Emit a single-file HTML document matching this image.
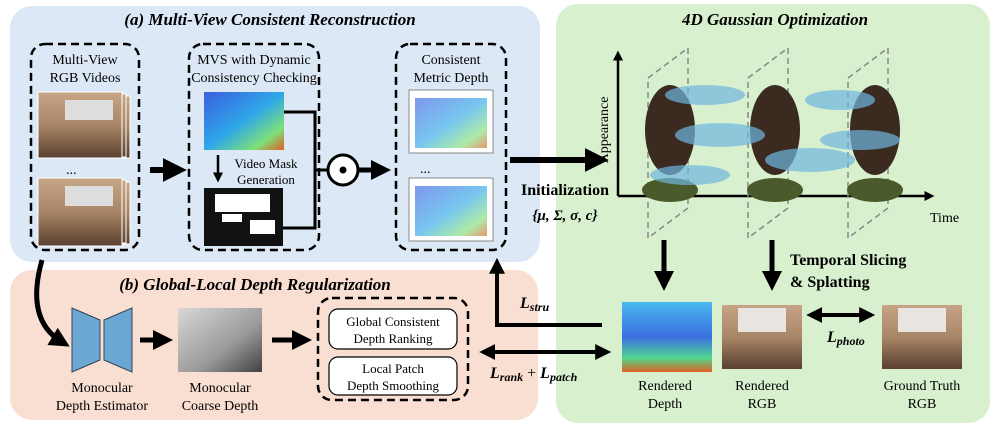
<!DOCTYPE html>
<html><head><meta charset="utf-8"><style>
body{margin:0;background:#fff}
svg{display:block;font-family:"Liberation Serif",serif}
</style></head><body>
<svg width="997" height="430" viewBox="0 0 997 430" xmlns="http://www.w3.org/2000/svg">
<defs>
<marker id="ah" markerWidth="4" markerHeight="4" refX="2.2" refY="2" orient="auto" markerUnits="strokeWidth"><path d="M0,0 L4,2 L0,4 z" fill="#000"/></marker>
<marker id="ahs" markerWidth="4" markerHeight="4" refX="1.8" refY="2" orient="auto-start-reverse" markerUnits="strokeWidth"><path d="M0,0 L4,2 L0,4 z" fill="#000"/></marker>
<linearGradient id="dep" x1="0" y1="0" x2="1" y2="1"><stop offset="0" stop-color="#3b5fe0"/><stop offset="0.5" stop-color="#2ea7e8"/><stop offset="0.8" stop-color="#7ee07a"/><stop offset="1" stop-color="#e06020"/></linearGradient>
<linearGradient id="dep2" x1="0" y1="0" x2="0" y2="1"><stop offset="0" stop-color="#49b8f0"/><stop offset="0.5" stop-color="#3a6ee0"/><stop offset="0.8" stop-color="#50d890"/><stop offset="1" stop-color="#e06020"/></linearGradient>
<linearGradient id="rgb" x1="0" y1="0" x2="0" y2="1"><stop offset="0" stop-color="#c7a587"/><stop offset="0.5" stop-color="#a88566"/><stop offset="1" stop-color="#5a4030"/></linearGradient>
<linearGradient id="gray" x1="0" y1="0" x2="1" y2="1"><stop offset="0" stop-color="#d8d8d8"/><stop offset="0.6" stop-color="#9a9a9a"/><stop offset="1" stop-color="#404040"/></linearGradient>
</defs>
<rect x="10" y="6" width="530" height="256" rx="22" fill="#dce8f5"/>
<rect x="10" y="270" width="528" height="150" rx="22" fill="#f9dfd2"/>
<rect x="556" y="4" width="434" height="419" rx="22" fill="#d9f0cf"/>
<text x="270" y="25" text-anchor="middle" font-size="17" font-weight="bold" font-style="italic">(a) Multi-View Consistent Reconstruction</text>
<text x="255" y="290" text-anchor="middle" font-size="17" font-weight="bold" font-style="italic">(b) Global-Local Depth Regularization</text>
<text x="775" y="25" text-anchor="middle" font-size="17" font-weight="bold" font-style="italic">4D Gaussian Optimization</text>
<g fill="none" stroke="#000" stroke-width="2.5" stroke-dasharray="8,5">
<rect x="31" y="44" width="108" height="206" rx="14"/>
<rect x="189" y="44" width="130" height="206" rx="14"/>
<rect x="396" y="44" width="110" height="206" rx="14"/>
<rect x="318" y="298" width="150" height="102" rx="14"/>
</g>
<g font-size="14" text-anchor="middle">
<text x="85" y="64">Multi-View</text><text x="85" y="82">RGB Videos</text>
<text x="254" y="64">MVS with Dynamic</text><text x="254" y="82">Consistency Checking</text>
<text x="451" y="64">Consistent</text><text x="451" y="82">Metric Depth</text>
<text x="266" y="168" font-size="13">Video Mask</text><text x="266" y="184" font-size="13">Generation</text>
</g>
<g stroke="#fff" stroke-width="1">
<rect x="46" y="96" width="84" height="62" fill="url(#rgb)"/><rect x="42" y="94" width="84" height="63" fill="url(#rgb)"/><rect x="38" y="92" width="84" height="66" fill="url(#rgb)"/>
<rect x="46" y="182" width="84" height="62" fill="url(#rgb)"/><rect x="42" y="180" width="84" height="63" fill="url(#rgb)"/><rect x="38" y="178" width="84" height="68" fill="url(#rgb)"/>
</g>
<rect x="65" y="100" width="48" height="20" fill="#ddd"/><rect x="65" y="186" width="48" height="20" fill="#ddd"/>
<text x="66" y="174" font-size="14">...</text>
<rect x="204" y="92" width="80" height="58" fill="url(#dep)"/>
<rect x="204" y="188" width="79" height="58" fill="#111"/>
<g fill="#fff"><rect x="215" y="194" width="55" height="18"/><rect x="222" y="214" width="20" height="8"/><rect x="250" y="220" width="25" height="14"/></g>
<rect x="409" y="90" width="84" height="63" fill="#fff" stroke="#888"/>
<rect x="415" y="98" width="72" height="50" fill="url(#dep)" opacity="0.65"/>
<text x="420" y="173" font-size="14">...</text>
<rect x="409" y="178" width="84" height="63" fill="#fff" stroke="#888"/>
<rect x="415" y="186" width="72" height="50" fill="url(#dep)" opacity="0.65"/>
<g stroke="#000" stroke-width="3" fill="none">
<line x1="150" y1="170" x2="176" y2="170" stroke-width="6" marker-end="url(#ah)"/>
<line x1="218" y1="155" x2="218" y2="178" stroke-width="2.5" marker-end="url(#ah)"/>
<polyline points="284,112 315,112 315,228 283,228"/>
<line x1="315" y1="170" x2="328" y2="170"/>
<line x1="358" y1="170" x2="382" y2="170" stroke-width="5" marker-end="url(#ah)"/>
<line x1="510" y1="160" x2="598" y2="160" stroke-width="6" marker-end="url(#ah)"/>
</g>
<circle cx="343" cy="170" r="15" fill="#fff" stroke="#000" stroke-width="3"/>
<circle cx="343" cy="170" r="3.5" fill="#000"/>
<text x="565" y="195" text-anchor="middle" font-size="16" font-weight="bold">Initialization</text>
<text x="565" y="220" text-anchor="middle" font-size="15" font-weight="bold" font-style="italic">{μ, Σ, σ, c}</text>
<g stroke="#000" stroke-width="3" fill="none">
<line x1="618" y1="196" x2="618" y2="55" marker-end="url(#ah)" stroke-width="2.5"/>
<line x1="618" y1="196" x2="930" y2="196" marker-end="url(#ah)" stroke-width="2.5"/>
</g>
<text transform="translate(608,130) rotate(-90)" text-anchor="middle" font-size="14">Appearance</text>
<text x="930" y="222" font-size="14">Time</text>
<g fill="none" stroke="#888" stroke-width="1.5" stroke-dasharray="6,4">
<polygon points="648,78 688,48 688,208 648,238"/>
<polygon points="748,78 788,48 788,208 748,238"/>
<polygon points="848,78 888,48 888,208 848,238"/>
</g>
<g fill="#3a2a20">
<ellipse cx="670" cy="130" rx="25" ry="45"/><ellipse cx="775" cy="130" rx="25" ry="45"/><ellipse cx="875" cy="130" rx="25" ry="45"/>
<ellipse cx="670" cy="190" rx="28" ry="12" fill="#4a5a2a"/><ellipse cx="775" cy="190" rx="28" ry="12" fill="#4a5a2a"/><ellipse cx="875" cy="190" rx="28" ry="12" fill="#4a5a2a"/>
</g>
<g fill="#6fb7e0" opacity="0.7">
<ellipse cx="705" cy="95" rx="40" ry="10"/><ellipse cx="720" cy="135" rx="45" ry="12"/><ellipse cx="690" cy="175" rx="40" ry="10"/>
<ellipse cx="810" cy="160" rx="45" ry="12"/><ellipse cx="840" cy="100" rx="35" ry="10"/><ellipse cx="860" cy="140" rx="40" ry="10"/>
</g>
<g stroke="#000" stroke-width="5" fill="none">
<line x1="664" y1="240" x2="664" y2="282" marker-end="url(#ah)"/>
<line x1="772" y1="240" x2="772" y2="282" marker-end="url(#ah)"/>
</g>
<text x="790" y="265" font-size="16" font-weight="bold">Temporal Slicing</text>
<text x="790" y="287" font-size="16" font-weight="bold">&amp; Splatting</text>
<rect x="622" y="302" width="90" height="70" fill="url(#dep2)"/>
<rect x="722" y="305" width="80" height="64" fill="url(#rgb)"/>
<rect x="738" y="308" width="48" height="24" fill="#e8e4e0"/>
<rect x="882" y="305" width="80" height="64" fill="url(#rgb)"/>
<rect x="898" y="308" width="48" height="24" fill="#e8e4e0"/>
<line x1="815" y1="315" x2="868" y2="315" stroke="#000" stroke-width="4" marker-start="url(#ahs)" marker-end="url(#ah)"/>
<text x="827" y="342" font-size="16" font-weight="bold" font-style="italic">L<tspan font-size="12" dy="3">photo</tspan></text>
<g font-size="14" text-anchor="middle">
<text x="665" y="390">Rendered</text><text x="665" y="408">Depth</text>
<text x="762" y="390">Rendered</text><text x="762" y="408">RGB</text>
<text x="922" y="390">Ground Truth</text><text x="922" y="408">RGB</text>
</g>
<g stroke="#000" stroke-width="4" fill="none">
<polyline points="602,325 497,325 497,265" marker-end="url(#ah)"/>
<line x1="488" y1="352" x2="604" y2="352" marker-start="url(#ahs)" marker-end="url(#ah)"/>
</g>
<text x="520" y="308" font-size="16" font-weight="bold" font-style="italic">L<tspan font-size="12" dy="3">stru</tspan></text>
<text x="490" y="378" font-size="16" font-weight="bold" font-style="italic">L<tspan font-size="12" dy="3">rank</tspan><tspan dy="-3" font-style="normal" font-weight="normal"> + </tspan>L<tspan font-size="12" dy="3">patch</tspan></text>
<path d="M42,260 Q25,320 62,342" stroke="#000" stroke-width="5" fill="none" marker-end="url(#ah)"/>
<polygon points="72,308 100,320 100,360 72,372" fill="#6ba7d3" stroke="#345" stroke-width="1"/>
<polygon points="132,308 104,320 104,360 132,372" fill="#6ba7d3" stroke="#345" stroke-width="1"/>
<line x1="140" y1="340" x2="164" y2="340" stroke="#000" stroke-width="5" marker-end="url(#ah)"/>
<rect x="178" y="308" width="84" height="64" fill="url(#gray)"/>
<line x1="272" y1="340" x2="303" y2="340" stroke="#000" stroke-width="5" marker-end="url(#ah)"/>
<g font-size="14" text-anchor="middle">
<text x="102" y="392">Monocular</text><text x="102" y="410">Depth Estimator</text>
<text x="220" y="392">Monocular</text><text x="220" y="410">Coarse Depth</text>
</g>
<rect x="329" y="309" width="128" height="40" rx="9" fill="#fff" stroke="#000" stroke-width="1.2"/>
<rect x="329" y="357" width="128" height="38" rx="9" fill="#fff" stroke="#000" stroke-width="1.2"/>
<g font-size="13" text-anchor="middle">
<text x="393" y="326">Global Consistent</text><text x="393" y="343">Depth Ranking</text>
<text x="393" y="373">Local Patch</text><text x="393" y="390">Depth Smoothing</text>
</g>
</svg>
</body></html>
